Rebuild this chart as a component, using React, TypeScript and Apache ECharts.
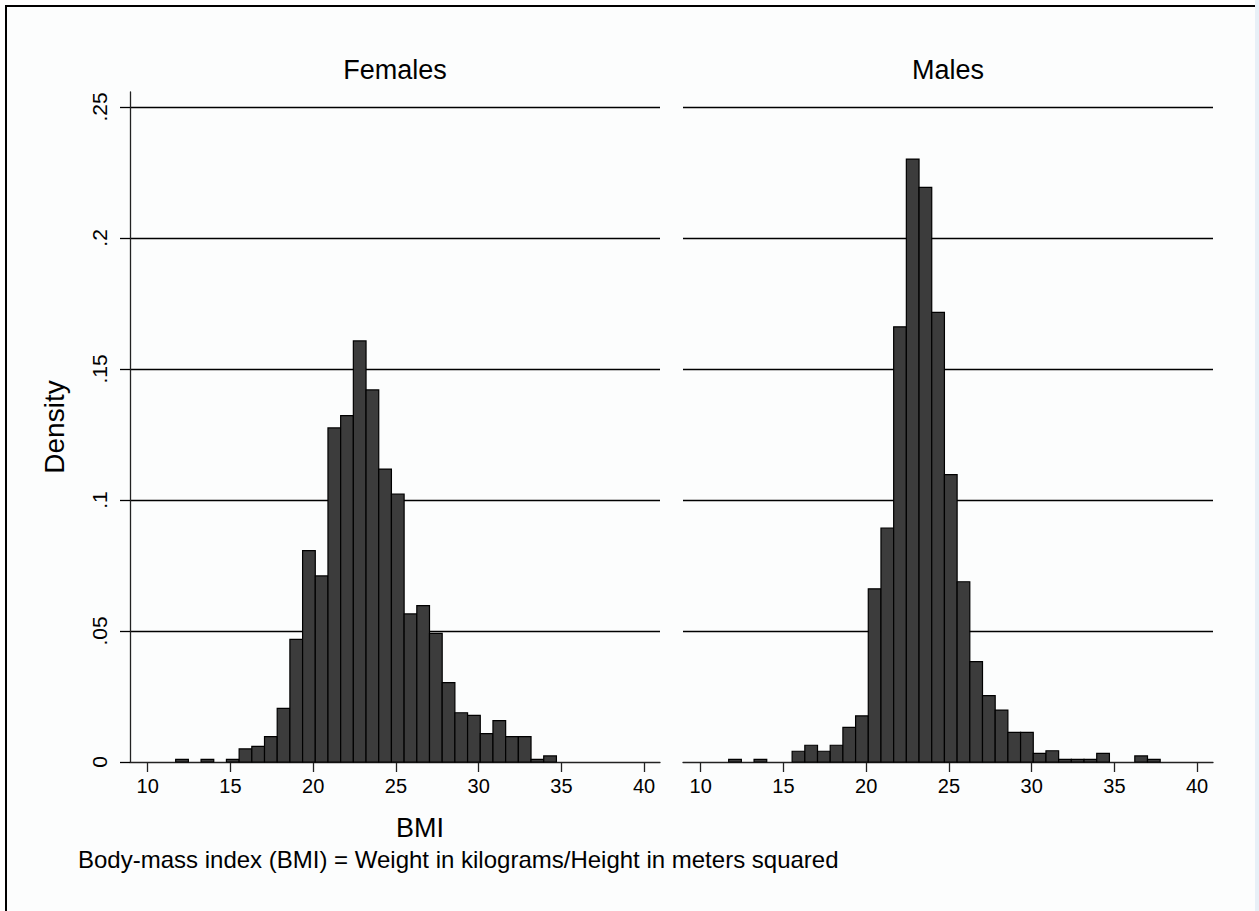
import React, { useEffect, useRef } from "react";
import * as echarts from "echarts";

// Histogram bins (BMI): lower edge of first bin and bin width
const BIN_START = 11.69;
const BIN_WIDTH = 0.767;

// Density per bin (34 bins)
const femaleDensity = [
  0.001, 0, 0.001, 0, 0.001, 0.005, 0.006, 0.0097, 0.0205, 0.0468,
  0.0807, 0.071, 0.1275, 0.1322, 0.1607, 0.142, 0.1118, 0.1022, 0.0565, 0.0597,
  0.0491, 0.0303, 0.0188, 0.0178, 0.0108, 0.0158, 0.0097, 0.0097, 0.001, 0.0023,
  0, 0, 0, 0,
];
const maleDensity = [
  0.001, 0, 0.001, 0, 0, 0.0041, 0.0064, 0.0041, 0.0064, 0.0132,
  0.0176, 0.0661, 0.0893, 0.1661, 0.2301, 0.2193, 0.1716, 0.1097, 0.0688, 0.0383,
  0.0253, 0.0198, 0.0113, 0.0113, 0.0033, 0.0043, 0.001, 0.001, 0.001, 0.0033,
  0, 0, 0.0023, 0.001,
];

const panelTitles = ["Females", "Males"];
const xTicks = [10, 15, 20, 25, 30, 35, 40];
const yTicks = [0, 0.05, 0.1, 0.15, 0.2, 0.25];
const X_MIN = 8.93;
const X_MAX = 40.96;
const Y_MAX = 0.2557;

const FONT = "Liberation Sans, Arial, sans-serif";

function toBins(values: number[]) {
  return values
    .map((d, i) => [BIN_START + i * BIN_WIDTH, BIN_START + (i + 1) * BIN_WIDTH, d])
    .filter((d) => d[2] > 0);
}

function fmtY(v: number) {
  if (v === 0) return "0";
  return String(v).replace(/^0/, "");
}

export default function App() {
  const ref = useRef<HTMLDivElement>(null);
  useEffect(() => {
    if (!ref.current) return;
    const chart = echarts.init(ref.current, undefined, { renderer: "svg" });

    const renderItem = (params: any, api: any) => {
      const x0 = api.value(0);
      const x1 = api.value(1);
      const y = api.value(2);
      const p0 = api.coord([x0, y]);
      const p1 = api.coord([x1, 0]);
      return {
        type: "rect",
        shape: { x: p0[0], y: p0[1], width: p1[0] - p0[0], height: p1[1] - p0[1] },
        style: { fill: "#3c3c3c", stroke: "#000", lineWidth: 1.2 },
      };
    };

    const xAxisBase = (gridIndex: number) => ({
      type: "value",
      gridIndex,
      min: X_MIN,
      max: X_MAX,
      axisLine: { show: true, onZero: false, lineStyle: { color: "#222", width: 1.3 } },
      axisTick: { show: true, customValues: xTicks, length: 10, lineStyle: { color: "#222", width: 1.3 } },
      axisLabel: {
        show: true,
        customValues: xTicks,
        fontSize: 20,
        fontFamily: FONT,
        color: "#000",
        margin: 14,
      },
      splitLine: { show: false },
    });

    const option: any = {
      animation: false,
      backgroundColor: "#ffffff",
      grid: [
        { left: 130, top: 92, width: 530, height: 670 },
        { left: 683, top: 92, width: 530, height: 670 },
      ],
      xAxis: [xAxisBase(0), xAxisBase(1)],
      yAxis: [
        {
          type: "value",
          gridIndex: 0,
          min: 0,
          max: Y_MAX,
          name: "Density",
          nameLocation: "middle",
          nameRotate: 90,
          nameGap: 62,
          nameTextStyle: { fontSize: 28, fontFamily: FONT, color: "#000" },
          axisLine: { show: true, lineStyle: { color: "#222", width: 1.3 } },
          axisTick: { show: true, customValues: yTicks, length: 10, lineStyle: { color: "#000", width: 1.3 } },
          axisLabel: {
            show: true,
            customValues: yTicks,
            rotate: 90,
            fontSize: 21,
            fontFamily: FONT,
            color: "#000",
            margin: 20,
            formatter: (v: number) => fmtY(v),
          },
          splitLine: { show: true, showMinLine: false, lineStyle: { color: "#000", width: 1.3 } },
        },
        {
          type: "value",
          gridIndex: 1,
          min: 0,
          max: Y_MAX,
          axisLine: { show: false },
          axisTick: { show: false, customValues: yTicks },
          axisLabel: { show: false, customValues: yTicks },
          splitLine: { show: true, showMinLine: false, lineStyle: { color: "#000", width: 1.3 } },
        },
      ],
      graphic: [
        {
          type: "rect",
          z: -10,
          silent: true,
          shape: { x: 6, y: 6, width: 1300, height: 1000 },
          style: { fill: "#fcfdfd", stroke: "#000", lineWidth: 2 },
        },
        {
          type: "rect",
          z: -9,
          silent: true,
          shape: { x: 1255, y: 0, width: 4, height: 911 },
          style: { fill: "#e8f0f7" },
        },
        {
          type: "text",
          x: 395,
          y: 70,
          style: { text: panelTitles[0], font: `27px ${FONT}`, fill: "#000", align: "center", verticalAlign: "middle" },
        },
        {
          type: "text",
          x: 948,
          y: 70,
          style: { text: panelTitles[1], font: `27px ${FONT}`, fill: "#000", align: "center", verticalAlign: "middle" },
        },
        {
          type: "text",
          x: 420,
          y: 828,
          style: { text: "BMI", font: `27px ${FONT}`, fill: "#000", align: "center", verticalAlign: "middle" },
        },
        {
          type: "text",
          x: 78,
          y: 859,
          style: {
            text: "Body-mass index (BMI) = Weight in kilograms/Height in meters squared",
            font: `24px ${FONT}`,
            fill: "#000",
            align: "left",
            verticalAlign: "middle",
          },
        },
      ],
      series: [
        {
          type: "custom",
          name: panelTitles[0],
          xAxisIndex: 0,
          yAxisIndex: 0,
          renderItem,
          encode: { x: [0, 1], y: 2 },
          data: toBins(femaleDensity),
        },
        {
          type: "custom",
          name: panelTitles[1],
          xAxisIndex: 1,
          yAxisIndex: 1,
          renderItem,
          encode: { x: [0, 1], y: 2 },
          data: toBins(maleDensity),
        },
      ],
    };

    chart.setOption(option);
    return () => chart.dispose();
  }, []);

  return (
    <div
      ref={ref}
      style={{ position: "absolute", left: 0, top: 0, width: 1259, height: 911 }}
    />
  );
}
